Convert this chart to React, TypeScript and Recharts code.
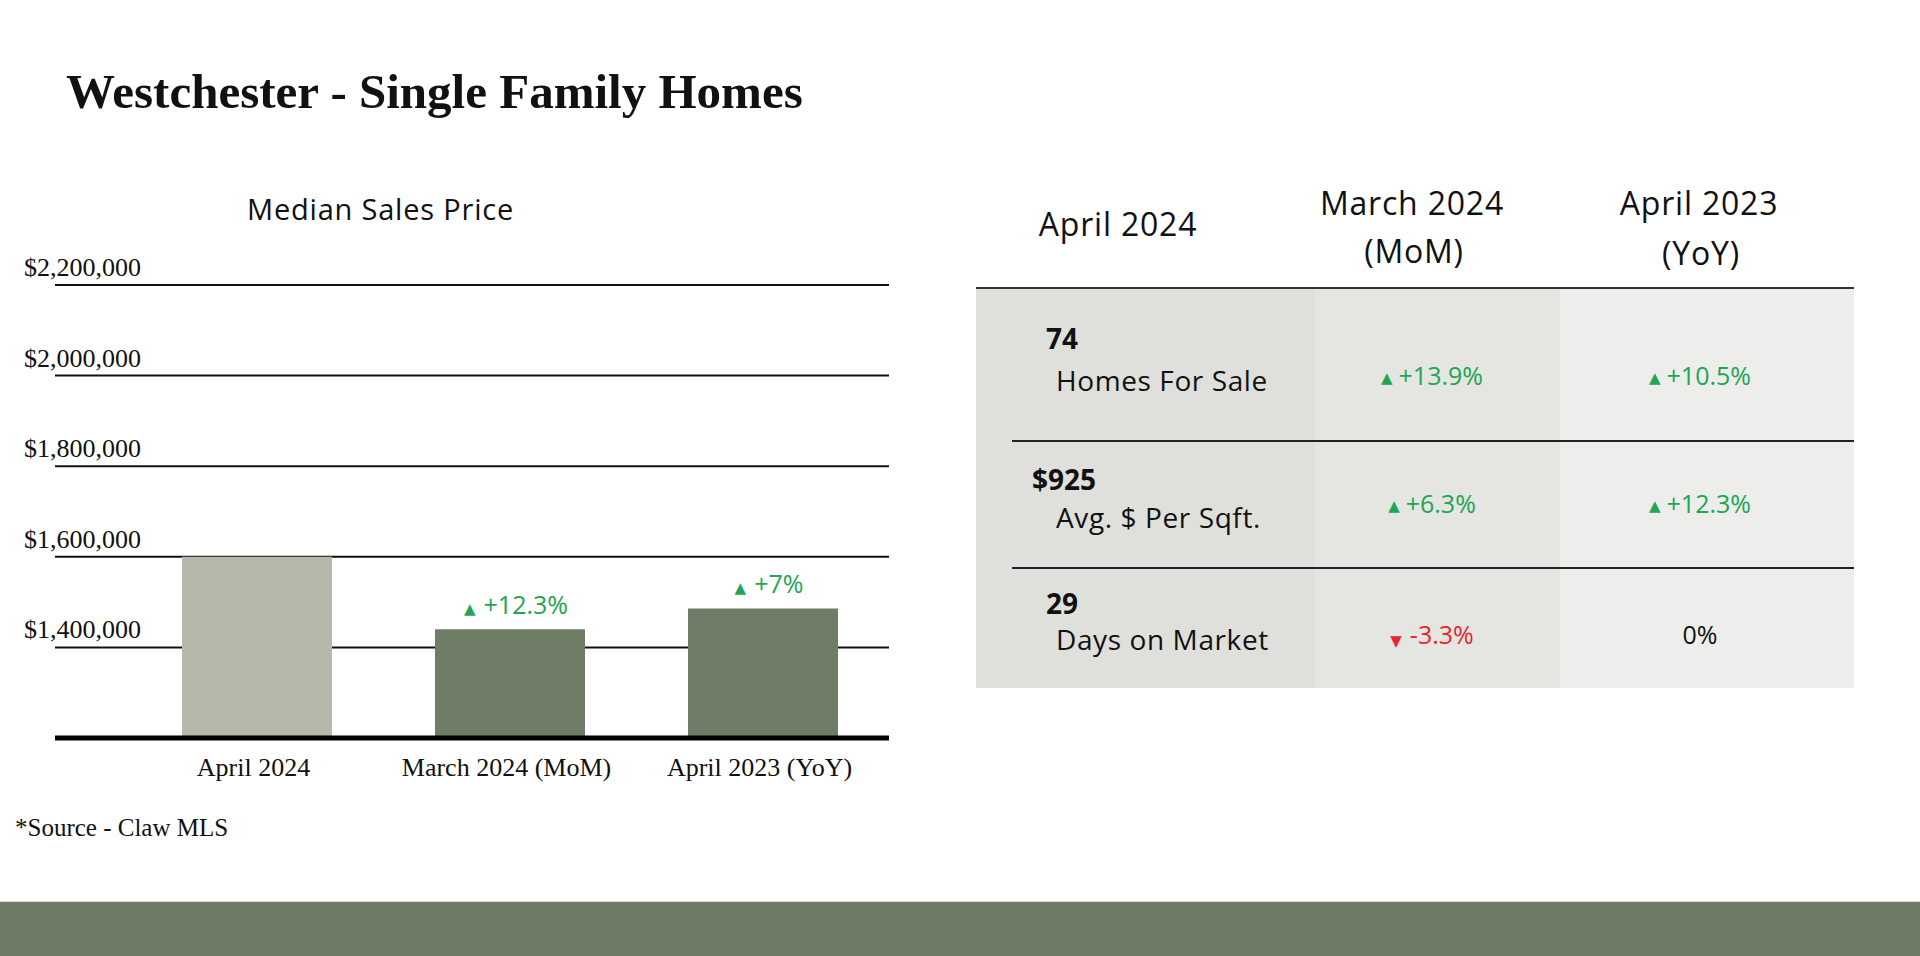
import React from 'react';
import { BarChart, Bar, XAxis, YAxis, CartesianGrid, Cell, LabelList } from 'recharts';

const categories = ['April 2024', 'March 2024 (MoM)', 'April 2023 (YoY)'];
const medianPrices = [1600000, 1440000, 1486000];
const priceChanges = ['', '+12.3%', '+7%'];
const barColors = ['#b6b8ab', '#6f7c66', '#6f7c66'];
const yTicks = [1400000, 1600000, 1800000, 2000000, 2200000];

const metricValues = ['74', '$925', '29'];
const metricNames = ['Homes For Sale', 'Avg. $ Per Sqft.', 'Days on Market'];
const momChanges = ['+13.9%', '+6.3%', '-3.3%'];
const yoyChanges = ['+10.5%', '+12.3%', '0%'];

const chartData = categories.map((name, i) => ({
  name,
  price: medianPrices[i],
  change: priceChanges[i],
}));

const GREEN = '#22a553';
const RED = '#e5262e';
const SANS = 'Open Sans';

const YTick = ({ y, payload }: any) => (
  <text x={24} y={y - 9} fontFamily="Liberation Serif" fontSize={26} fill="#111">
    {'$' + Number(payload.value).toLocaleString('en-US')}
  </text>
);

const XTick = ({ x, y, payload }: any) => (
  <text x={x - 3} y={y + 30} textAnchor="middle" fontFamily="Liberation Serif" fontSize={26} fill="#111">
    {payload.value}
  </text>
);

const ChangeLabel = ({ x, y, width, value }: any) => {
  if (!value) return null;
  return (
    <text x={x + width / 2 + 6} y={y - 15} textAnchor="middle" fontFamily={SANS} fontSize={25} fill={GREEN}>
      <tspan fontSize={15} fontFamily="DejaVu Sans">▲</tspan>
      <tspan dx={8}>{value}</tspan>
    </text>
  );
};

// absolutely placed text, y is the visual centre
const T = ({ x, y, size, anchor = 'start', weight = 400, color = '#111', family = SANS, spacing = 0, children }: any) => {
  const lh = size * 1.2;
  return (
    <div
      style={{
        position: 'absolute',
        left: x,
        top: y - lh / 2,
        fontSize: size,
        lineHeight: lh + 'px',
        fontFamily: family,
        fontWeight: weight,
        letterSpacing: spacing,
        color,
        whiteSpace: 'nowrap',
        transform: anchor === 'middle' ? 'translateX(-50%)' : undefined,
      }}
    >
      {children}
    </div>
  );
};

const Change = ({ value }: { value: string }) => {
  if (value.startsWith('+')) {
    return (
      <span style={{ color: GREEN }}>
        <span style={{ fontSize: 15, fontFamily: 'DejaVu Sans', marginRight: 6, verticalAlign: 2 }}>▲</span>
        {value}
      </span>
    );
  }
  if (value.startsWith('-')) {
    return (
      <span style={{ color: RED }}>
        <span style={{ fontSize: 15, fontFamily: 'DejaVu Sans', marginRight: 8, verticalAlign: -2 }}>▼</span>
        {value}
      </span>
    );
  }
  return <span>{value}</span>;
};

const valueY = [339, 480, 604];
const nameY = [381, 518, 640];
const changeY = [375, 503, 634];

export default function App() {
  return (
    <div style={{ position: 'relative', width: 1920, height: 956, background: '#fff', overflow: 'hidden' }}>
      <style>{'body{margin:0}'}</style>

      <T x={66} y={92} size={49} weight={700} family="Liberation Serif">Westchester - Single Family Homes</T>
      <T x={247} y={209} size={29} weight={500} spacing={0.8}>Median Sales Price</T>

      <div style={{ position: 'absolute', left: 0, top: 0 }}>
        <BarChart width={960} height={820} data={chartData} margin={{ top: 285, right: 71, left: 0, bottom: 0 }}>
          <CartesianGrid vertical={false} stroke="#111" strokeWidth={2} />
          <XAxis
            dataKey="name"
            height={82}
            padding={{ left: 75, right: 0 }}
            axisLine={{ stroke: '#000', strokeWidth: 5 }}
            tickLine={false}
            tick={<XTick />}
            interval={0}
          />
          <YAxis
            width={55}
            domain={[1200000, 2200000]}
            ticks={yTicks}
            interval={0}
            axisLine={false}
            tickLine={false}
            tick={<YTick />}
            allowDataOverflow
          />
          <Bar dataKey="price" barSize={150} isAnimationActive={false}>
            {chartData.map((d, i) => (
              <Cell key={d.name} fill={barColors[i]} />
            ))}
            <LabelList dataKey="change" content={<ChangeLabel />} />
          </Bar>
        </BarChart>
      </div>

      {/* comparison table */}
      <div style={{ position: 'absolute', left: 976, top: 289, width: 339, height: 399, background: '#dfe0dc' }} />
      <div style={{ position: 'absolute', left: 1315, top: 289, width: 245, height: 399, background: '#e5e6e2' }} />
      <div style={{ position: 'absolute', left: 1560, top: 289, width: 294, height: 399, background: '#ededeb' }} />
      <div style={{ position: 'absolute', left: 976, top: 287, width: 878, height: 2, background: '#333' }} />
      <div style={{ position: 'absolute', left: 1012, top: 440, width: 842, height: 2, background: '#222' }} />
      <div style={{ position: 'absolute', left: 1012, top: 567, width: 842, height: 2, background: '#222' }} />

      <T x={1118} y={224} size={32} weight={500} spacing={0.8} anchor="middle">April 2024</T>
      <T x={1412} y={203} size={32} weight={500} spacing={0.8} anchor="middle">March 2024</T>
      <T x={1414} y={251} size={32} weight={500} spacing={0.8} anchor="middle">(MoM)</T>
      <T x={1699} y={203} size={32} weight={500} spacing={0.8} anchor="middle">April 2023</T>
      <T x={1701} y={253} size={32} weight={500} spacing={0.8} anchor="middle">(YoY)</T>

      {metricValues.map((v, i) => (
        <React.Fragment key={v}>
          <T x={i === 1 ? 1032 : 1046} y={valueY[i]} size={28} weight={700}>{v}</T>
          <T x={1056} y={nameY[i]} size={28} spacing={0.6}>{metricNames[i]}</T>
          <T x={1432} y={changeY[i]} size={25} anchor="middle"><Change value={momChanges[i]} /></T>
          <T x={1700} y={changeY[i]} size={25} anchor="middle"><Change value={yoyChanges[i]} /></T>
        </React.Fragment>
      ))}

      <T x={15} y={828} size={25} family="Liberation Serif">*Source - Claw MLS</T>

      <div style={{ position: 'absolute', left: 0, top: 901, width: 1920, height: 1, background: '#d6d8d2' }} />
      <div style={{ position: 'absolute', left: 0, top: 902, width: 1920, height: 54, background: '#6f7b64' }} />
    </div>
  );
}
